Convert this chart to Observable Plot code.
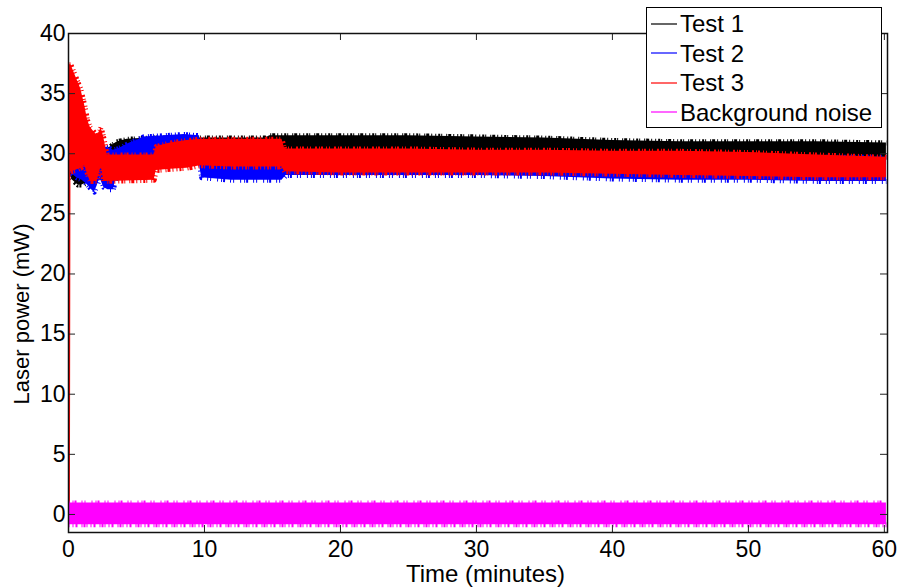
<!DOCTYPE html>
<html>
<head>
<meta charset="utf-8">
<script src="https://cdn.jsdelivr.net/npm/d3@7"></script>
<script src="https://cdn.jsdelivr.net/npm/@observablehq/plot@0.6"></script>
<style>
  body { margin: 0; background: #fff; }
  #wrap { position: relative; width: 901px; height: 587px; font-family: "Liberation Sans", Arial, sans-serif; color: #000; }
  .lbl { position: absolute; white-space: nowrap; font-size: 22px; line-height: 22px; }
  #legend { position: absolute; left: 646px; top: 7px; width: 234px; height: 119px; border: 1px solid #000; background: #fff; }
  .row { position: absolute; left: 0; height: 28px; font-size: 24px; line-height: 28px; white-space: nowrap; }
  .row svg { vertical-align: middle; margin: 0 3px 0 4px; position: relative; top: -2px; }
</style>
</head>
<body>
<div id="wrap"></div>
<script>
// ---- data (time in minutes, power in mW; envelope low/high) ----
const seriesNames = ["Test 1", "Test 2", "Test 3", "Background noise"];
const seriesColors = ["#000000", "#0000ff", "#ff0000", "#ff00ff"];

const t1  = [0, 0.3, 0.7, 1.0, 1.4, 1.8, 2.2, 2.6, 2.9, 3.2, 3.6, 4.3, 6, 9, 12, 14.5, 14.8, 20, 25, 30, 35, 40, 45, 50, 55, 60.15];
const hi1 = [31.0, 31.0, 30.8, 30.6, 30.4, 30.2, 30.0, 30.2, 30.4, 30.7, 31.0, 31.2, 31.3, 31.3, 31.3, 31.3, 31.5, 31.5, 31.5, 31.4, 31.3, 31.1, 31.0, 31.0, 31.0, 30.9];
const lo1 = [28.5, 27.8, 27.4, 27.4, 27.6, 27.9, 28.2, 28.5, 28.8, 29.0, 29.2, 29.3, 29.3, 29.3, 29.3, 29.3, 29.3, 29.3, 29.3, 29.3, 29.3, 29.3, 29.3, 29.3, 29.3, 29.3];

const t2  = [0, 0.3, 0.6, 1.0, 1.4, 1.7, 1.9, 2.1, 2.3, 2.6, 2.9, 3.3, 3.6, 4.0, 4.5, 5.0, 5.5, 7.0, 8.5, 9.6, 9.8, 12, 15.7, 16, 20, 25, 30, 35, 40, 45, 50, 55, 60.15];
const hi2 = [35.8, 34.5, 33.6, 32.5, 31.7, 31.3, 31.0, 30.8, 30.5, 30.6, 30.5, 30.3, 30.4, 30.6, 30.9, 31.1, 31.4, 31.5, 31.6, 31.5, 29.8, 29.8, 29.8, 29.7, 29.7, 29.7, 29.7, 29.7, 29.7, 29.7, 29.7, 29.7, 29.7];
const lo2 = [28.5, 28.3, 28.0, 27.8, 27.4, 27.0, 26.8, 27.3, 28.0, 27.2, 27.0, 27.0, 28.5, 29.0, 29.2, 29.3, 29.3, 29.3, 29.3, 29.3, 28.0, 27.8, 27.8, 28.2, 28.2, 28.2, 28.2, 28.1, 27.9, 27.8, 27.8, 27.7, 27.7];

const t3  = [0.07, 0.14, 0.18, 0.5, 0.9, 1.2, 1.4, 1.6, 2.1, 2.3, 2.4, 2.6, 2.85, 6.3, 6.45, 7.5, 8.7, 9.7, 12, 15.7, 15.9, 20, 25, 30, 35, 40, 45, 50, 55, 60.15];
const hi3 = [37.4, 37.4, 37.4, 36.5, 35.4, 34.0, 32.8, 32.2, 31.5, 31.9, 32.2, 31.3, 29.9, 29.9, 30.6, 30.9, 31.1, 31.2, 31.2, 31.2, 30.4, 30.4, 30.4, 30.3, 30.3, 30.2, 30.2, 30.1, 29.9, 29.7];
const lo3 = [0.3, 0.3, 28.5, 28.6, 28.8, 29.0, 28.3, 27.7, 27.7, 28.5, 29.0, 27.7, 27.7, 27.8, 28.6, 28.7, 28.8, 29.0, 28.9, 28.9, 28.5, 28.4, 28.4, 28.4, 28.4, 28.3, 28.2, 28.1, 28.0, 28.0];

const t4  = [0, 10, 20, 30, 40, 50, 60.15];
const hi4 = [0.95, 0.95, 0.95, 0.95, 0.95, 0.95, 0.95];
const lo4 = [-0.85, -0.85, -0.85, -0.85, -0.85, -0.85, -0.85];

const xTicks = [0, 10, 20, 30, 40, 50, 60];
const yTicks = [0, 5, 10, 15, 20, 25, 30, 35, 40];
const xLabel = "Time (minutes)";
const yLabel = "Laser power (mW)";

// ---- build tables ----
const mk = (t, lo, hi) => t.map((d, i) => ({t: d, lo: lo[i], hi: hi[i]}));
const tables = [mk(t1, lo1, hi1), mk(t2, lo2, hi2), mk(t3, lo3, hi3), mk(t4, lo4, hi4)];

const W = 901, H = 587, mL = 68, mR = 14, mT = 33, mB = 55;
const plotW = W - mL - mR, plotH = H - mT - mB;
const tk = 7;
// jagged edge texture (styling only): dashes along the envelope edges
const dashes = ["1 2 2 1 1 4 1 1 3 2 1 3", "2 1 1 3 1 2 2 4 1 1", "1 1 2 3 1 2 1 4 2 2", "1 3 1 1 2 5 1 2 1 6"];

const seriesMarks = tables.flatMap((tb, i) => {
  // the lower edge texture skips the start-up ramp of the red series
  const loEdge = i < 3 ? tb.filter(d => d.lo > 10) : tb;
  return [
    Plot.areaY(tb, {x: "t", y1: "lo", y2: "hi", fill: seriesColors[i], curve: "linear"}),
    Plot.lineY(tb, {x: "t", y: "hi", stroke: seriesColors[i], strokeWidth: 5, strokeDasharray: dashes[i], strokeLinecap: "butt", curve: "linear"}),
    Plot.lineY(loEdge, {x: "t", y: "lo", stroke: seriesColors[i], strokeWidth: 5, strokeDasharray: dashes[(i + 2) % 4], strokeDashoffset: 3, strokeLinecap: "butt", curve: "linear"})
  ];
});

const chart = Plot.plot({
  width: W, height: H,
  marginLeft: mL, marginRight: mR, marginTop: mT, marginBottom: mB,
  style: {fontFamily: '"Liberation Sans", Arial, sans-serif', color: "#000", background: "#fff", overflow: "visible"},
  x: {domain: [0, 60.23], label: null},
  y: {domain: [-1.5, 40], label: null},
  clip: true,
  marks: [
    ...seriesMarks,
    // inward ticks on all four sides
    Plot.ruleX(xTicks, {x: d => d, insetTop: plotH - tk, stroke: "#222", clip: false}),
    Plot.ruleX(xTicks, {x: d => d, insetBottom: plotH - tk, stroke: "#222", clip: false}),
    Plot.ruleY(yTicks, {y: d => d, insetRight: plotW - tk, stroke: "#222", clip: false}),
    Plot.ruleY(yTicks, {y: d => d, insetLeft: plotW - tk, stroke: "#222", clip: false}),
    Plot.frame({stroke: "#111", strokeWidth: 1.5, clip: false}),
    Plot.axisX(xTicks, {anchor: "bottom", tickSize: 0, tickPadding: 8, fontSize: 23, label: null, tickFormat: d => String(d), clip: false}),
    Plot.axisY(yTicks, {anchor: "left", tickSize: 0, tickPadding: 3, fontSize: 23, label: null, tickFormat: d => String(d), clip: false})
  ]
});

const wrap = document.getElementById("wrap");
wrap.appendChild(chart);

// axis titles
const xl = document.createElement("div");
xl.className = "lbl"; xl.textContent = xLabel;
xl.style.fontSize = "24px"; xl.style.lineHeight = "24px";
xl.style.left = (mL + plotW / 2 + 8) + "px"; xl.style.top = "562px";
xl.style.transform = "translateX(-50%)";
wrap.appendChild(xl);

const yl = document.createElement("div");
yl.className = "lbl"; yl.textContent = yLabel;
yl.style.left = "22px"; yl.style.top = "314px";
yl.style.transform = "translate(-50%, -50%) rotate(-90deg)";
wrap.appendChild(yl);

// legend
const NS = "http://www.w3.org/2000/svg";
const lg = document.createElement("div");
lg.id = "legend";
seriesNames.forEach((n, i) => {
  const r = document.createElement("div");
  r.className = "row";
  r.style.top = (2 + i * 29.5) + "px";
  const s = document.createElementNS(NS, "svg");
  s.setAttribute("width", "26"); s.setAttribute("height", "4");
  const ln = document.createElementNS(NS, "line");
  ln.setAttribute("x1", "0"); ln.setAttribute("x2", "26");
  ln.setAttribute("y1", "2"); ln.setAttribute("y2", "2");
  ln.setAttribute("stroke", seriesColors[i]); ln.setAttribute("stroke-width", "1.2");
  s.appendChild(ln);
  r.appendChild(s);
  r.appendChild(document.createTextNode(n));
  lg.appendChild(r);
});
wrap.appendChild(lg);
</script>
</body>
</html>
